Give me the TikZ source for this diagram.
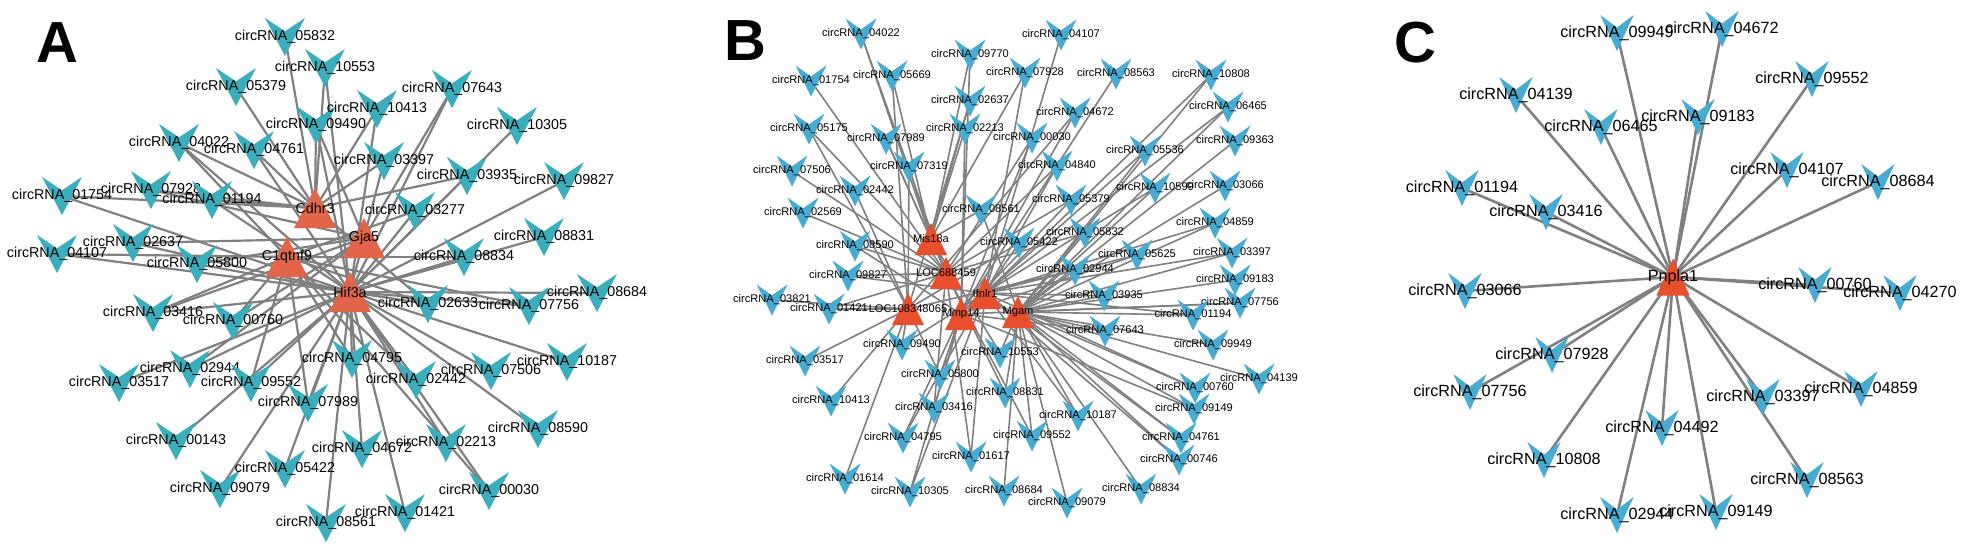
\documentclass[tikz,border=0pt]{standalone}
\usepackage{fontspec}
\setmainfont{Liberation Sans}
\pgfdeclarelayer{bg}\pgfsetlayers{bg,main}
\definecolor{vA}{RGB}{58,174,188}
\definecolor{tA}{RGB}{226,101,74}
\definecolor{vB}{RGB}{72,172,210}
\definecolor{tB}{RGB}{232,80,45}
\definecolor{eg}{RGB}{128,128,128}
\newcommand\CN[4]{\fill[\vcol] (#2-\vw,#3-\vh) -- (#2,#3-0.3*\vh) -- (#2+\vw,#3-\vh) -- (#2,#3+\vh) -- cycle;
  \node[lab] (#1) at (#2,#3) {#4};}
\newcommand\HN[4]{\fill[\tcol] (#2,#3-\trh) -- (#2+\trw,#3+\trh) -- (#2-\trw,#3+\trh) -- cycle;
  \node[lab] (#1) at (#2,#3) {#4};}
\newcommand\ED[2]{\foreach \q in {#2}{\draw[lnk] (#1.center) -- (\q.center);}}
\tikzset{panel/.style={inner sep=0pt, font=\fontsize{58}{60}\selectfont\bfseries}}
\begin{document}
\begin{tikzpicture}[x=1pt,y=-1pt]
\begin{pgfonlayer}{bg}
\fill[white] (0,0) rectangle (1965,551);
\end{pgfonlayer}
\useasboundingbox (0,0) rectangle (1965,551);
\node[panel] (LA) at (57,43) {A};
\node[panel] (LB) at (745,41) {B};
\node[panel] (LC) at (1415,43) {C};
% ---------------- Panel A
\begin{scope}[lab/.style={inner sep=0pt,font=\fontsize{14.3}{16}\selectfont}, lnk/.style={draw=eg,line width=2.2pt}]
\def\vw{20}\def\vh{19}\def\vcol{vA}\def\trw{21}\def\trh{20}\def\tcol{tA}
\CN{a05832}{285}{37}{circRNA\_05832}
\CN{a10553}{325}{68}{circRNA\_10553}
\CN{a05379}{236}{87}{circRNA\_05379}
\CN{a09490}{316}{125}{circRNA\_09490}
\CN{a04761}{254}{150}{circRNA\_04761}
\CN{a04022}{179}{143}{circRNA\_04022}
\CN{a01754}{62}{196}{circRNA\_01754}
\CN{a07928}{151}{190}{circRNA\_07928}
\CN{a01194}{212}{200}{circRNA\_01194}
\CN{a02637}{133}{243}{circRNA\_02637}
\CN{a04107}{57}{254}{circRNA\_04107}
\CN{a05800}{197}{264}{circRNA\_05800}
\CN{a10413}{377}{109}{circRNA\_10413}
\CN{a07643}{452}{89}{circRNA\_07643}
\CN{a10305}{517}{126}{circRNA\_10305}
\CN{a03397}{384}{161}{circRNA\_03397}
\CN{a03935}{467}{176}{circRNA\_03935}
\CN{a09827}{564}{181}{circRNA\_09827}
\CN{a03277}{415}{211}{circRNA\_03277}
\CN{a08831}{544}{237}{circRNA\_08831}
\CN{a08834}{464}{257}{circRNA\_08834}
\CN{a03416}{153}{313}{circRNA\_03416}
\CN{a00760}{233}{321}{circRNA\_00760}
\CN{a02944}{190}{369}{circRNA\_02944}
\CN{a03517}{119}{383}{circRNA\_03517}
\CN{a09552}{251}{383}{circRNA\_09552}
\CN{a00143}{176}{441}{circRNA\_00143}
\CN{a09079}{220}{489}{circRNA\_09079}
\CN{a07989}{308}{403}{circRNA\_07989}
\CN{a05422}{285}{469}{circRNA\_05422}
\CN{a08561}{326}{523}{circRNA\_08561}
\CN{a02633}{428}{304}{circRNA\_02633}
\CN{a07756}{529}{306}{circRNA\_07756}
\CN{a08684}{597}{293}{circRNA\_08684}
\CN{a10187}{567}{362}{circRNA\_10187}
\CN{a04795}{352}{359}{circRNA\_04795}
\CN{a07506}{491}{371}{circRNA\_07506}
\CN{a02442}{416}{380}{circRNA\_02442}
\CN{a08590}{538}{429}{circRNA\_08590}
\CN{a02213}{446}{443}{circRNA\_02213}
\CN{a04672}{362}{449}{circRNA\_04672}
\CN{a00030}{489}{491}{circRNA\_00030}
\CN{a01421}{405}{513}{circRNA\_01421}
\HN{aCd}{315}{208}{Cdhr3}
\HN{aGj}{364}{238}{Gja5}
\HN{aC1}{287}{257}{C1qtnf9}
\HN{aHi}{350}{292}{Hif3a}
\begin{pgfonlayer}{bg}
\ED{a05832}{aCd}\ED{a10553}{aCd,aHi}\ED{a05379}{aCd}\ED{a09490}{aCd,aGj,aHi}
\ED{a04761}{aCd,aHi}\ED{a04022}{aCd,aC1,aHi}\ED{a10413}{aCd,aHi}\ED{a07643}{aGj,aHi}
\ED{a10305}{aHi}\ED{a03397}{aCd,aHi}\ED{a03935}{aCd,aHi}\ED{a09827}{aHi}
\ED{a03277}{aC1,aHi}\ED{a08831}{aHi}\ED{a08834}{aC1,aHi}\ED{a01754}{aCd,aHi}
\ED{a07928}{aCd,aGj}\ED{a01194}{aCd,aHi}\ED{a02637}{aGj,aHi}\ED{a04107}{aC1,aHi}
\ED{a05800}{aGj,aHi}\ED{a03416}{aC1,aHi,aGj}\ED{a00760}{aC1,aGj}\ED{a02944}{aGj,aHi}
\ED{a03517}{aHi}\ED{a09552}{aC1,aHi}\ED{a00143}{aHi}\ED{a09079}{aHi}
\ED{a07989}{aC1,aHi}\ED{a05422}{aHi}\ED{a08561}{aHi}\ED{a02633}{aCd,aC1,aHi}
\ED{a07756}{aC1,aHi}\ED{a08684}{aHi}\ED{a10187}{aHi}\ED{a04795}{aC1,aHi}
\ED{a07506}{aHi}\ED{a02442}{aC1,aHi}\ED{a08590}{aHi}\ED{a02213}{aHi}
\ED{a04672}{aHi}\ED{a00030}{aHi,aC1}\ED{a01421}{aHi}
\end{pgfonlayer}
\end{scope}
% ---------------- Panel B
\begin{scope}[lab/.style={inner sep=0pt,font=\fontsize{11.1}{12}\selectfont}, lnk/.style={draw=eg,line width=1.6pt}]
\def\vw{15.5}\def\vh{15.5}\def\vcol{vB}\def\trw{16}\def\trh{16}\def\tcol{tB}
\CN{b04022}{861}{34}{circRNA\_04022}
\CN{b09770}{970}{55}{circRNA\_09770}
\CN{b04107}{1061}{35}{circRNA\_04107}
\CN{b01754}{811}{81}{circRNA\_01754}
\CN{b05669}{892}{76}{circRNA\_05669}
\CN{b07928}{1025}{73}{circRNA\_07928}
\CN{b08563}{1116}{74}{circRNA\_08563}
\CN{b10808}{1211}{75}{circRNA\_10808}
\CN{b02637}{970}{101}{circRNA\_02637}
\CN{b04672}{1075}{113}{circRNA\_04672}
\CN{b06465}{1228}{107}{circRNA\_06465}
\CN{b05175}{809}{129}{circRNA\_05175}
\CN{b07989}{886}{139}{circRNA\_07989}
\CN{b02213}{965}{129}{circRNA\_02213}
\CN{b00030}{1032}{138}{circRNA\_00030}
\CN{b09363}{1235}{141}{circRNA\_09363}
\CN{b07319}{909}{167}{circRNA\_07319}
\CN{b04840}{1057}{166}{circRNA\_04840}
\CN{b05536}{1145}{151}{circRNA\_05536}
\CN{b07506}{792}{171}{circRNA\_07506}
\CN{b02442}{855}{191}{circRNA\_02442}
\CN{b10599}{1155}{188}{circRNA\_10599}
\CN{b03066}{1225}{186}{circRNA\_03066}
\CN{b05379}{1071}{200}{circRNA\_05379}
\CN{b02569}{803}{213}{circRNA\_02569}
\CN{b08561}{981}{210}{circRNA\_08561}
\CN{b05422}{1019}{243}{circRNA\_05422}
\CN{b04859}{1215}{223}{circRNA\_04859}
\CN{b08590}{855}{246}{circRNA\_08590}
\CN{b05832}{1085}{233}{circRNA\_05832}
\CN{b05625}{1137}{255}{circRNA\_05625}
\CN{b09827}{848}{276}{circRNA\_09827}
\CN{b02944}{1075}{270}{circRNA\_02944}
\CN{b03397}{1232}{253}{circRNA\_03397}
\CN{b09183}{1235}{280}{circRNA\_09183}
\CN{b03821}{772}{300}{circRNA\_03821}
\CN{b01421}{829}{309}{circRNA\_01421}
\CN{b03935}{1104}{296}{circRNA\_03935}
\CN{b07756}{1240}{303}{circRNA\_07756}
\CN{b01194}{1193}{315}{circRNA\_01194}
\CN{b07643}{1105}{331}{circRNA\_07643}
\CN{b09949}{1213}{345}{circRNA\_09949}
\CN{b09490}{902}{345}{circRNA\_09490}
\CN{b10553}{1000}{353}{circRNA\_10553}
\CN{b03517}{805}{361}{circRNA\_03517}
\CN{b05800}{940}{375}{circRNA\_05800}
\CN{b04139}{1259}{379}{circRNA\_04139}
\CN{b00760}{1195}{388}{circRNA\_00760}
\CN{b08831}{1005}{393}{circRNA\_08831}
\CN{b09149}{1194}{409}{circRNA\_09149}
\CN{b10413}{831}{401}{circRNA\_10413}
\CN{b03416}{934}{408}{circRNA\_03416}
\CN{b10187}{1078}{416}{circRNA\_10187}
\CN{b04761}{1181}{438}{circRNA\_04761}
\CN{b09552}{1032}{436}{circRNA\_09552}
\CN{b00746}{1179}{460}{circRNA\_00746}
\CN{b04795}{903}{438}{circRNA\_04795}
\CN{b01617}{971}{457}{circRNA\_01617}
\CN{b08834}{1141}{489}{circRNA\_08834}
\CN{b01614}{845}{479}{circRNA\_01614}
\CN{b10305}{910}{492}{circRNA\_10305}
\CN{b08684}{1004}{491}{circRNA\_08684}
\CN{b09079}{1067}{503}{circRNA\_09079}
\HN{bMis}{931}{239}{Mis18a}
\HN{bL68}{946}{273}{LOC688459}
\HN{bIfn}{985}{293}{Ifnlr1}
\HN{bL10}{908}{309}{LOC108348065}
\HN{bMmp}{961}{314}{Mmp14}
\HN{bMga}{1018}{312}{Mgam}
\begin{pgfonlayer}{bg}
\ED{b04022}{bMis,bL68}\ED{b09770}{bMis,bMmp}\ED{b04107}{bIfn}\ED{b01754}{bL68}
\ED{b05669}{bMis,bL10}\ED{b07928}{bMis,bIfn}\ED{b08563}{bMmp}\ED{b10808}{bIfn,bMga}
\ED{b02637}{bMis,bL10}\ED{b04672}{bL10,bMmp}\ED{b06465}{bIfn,bMga}\ED{b05175}{bL68,bL10}
\ED{b07989}{bMis,bL68}\ED{b02213}{bMis,bMmp}\ED{b00030}{bL68,bMmp}\ED{b09363}{bMga}
\ED{b07319}{bMis,bL10}\ED{b04840}{bL68,bIfn}\ED{b05536}{bMmp,bMga}\ED{b07506}{bL68}
\ED{b02442}{bL10}\ED{b10599}{bIfn,bMga}\ED{b03066}{bMga}\ED{b05379}{bL68,bMmp}
\ED{b02569}{bL68}\ED{b08561}{bMis,bMga}\ED{b05422}{bL10,bIfn}\ED{b04859}{bIfn,bMga}
\ED{b08590}{bL68,bMmp}\ED{b05832}{bL68,bMga}\ED{b05625}{bIfn,bMmp}\ED{b09827}{bL68,bIfn}
\ED{b02944}{bL10,bMga}\ED{b03397}{bIfn,bMga}\ED{b09183}{bMga}\ED{b03821}{bL10}
\ED{b01421}{bL68,bL10}\ED{b03935}{bIfn,bMga}\ED{b07756}{bMmp,bMga}\ED{b01194}{bIfn,bMga}
\ED{b07643}{bMmp,bMga}\ED{b09949}{bMga}\ED{b09490}{bL10,bIfn}\ED{b10553}{bMis,bMga}
\ED{b03517}{bL10}\ED{b05800}{bL10,bMmp}\ED{b04139}{bMga}\ED{b00760}{bIfn,bMga}
\ED{b08831}{bL68,bMga}\ED{b09149}{bMmp,bMga}\ED{b10413}{bL10}\ED{b03416}{bMmp,bL68}
\ED{b10187}{bIfn,bMga}\ED{b04761}{bIfn,bMga}\ED{b09552}{bMga,bL68}\ED{b00746}{bIfn,bMga}
\ED{b04795}{bMmp,bIfn}\ED{b01617}{bIfn,bL68}\ED{b08834}{bMga}\ED{b01614}{bL10}
\ED{b10305}{bMmp,bIfn}\ED{b08684}{bMga}\ED{b09079}{bMga}
\end{pgfonlayer}
\end{scope}
% ---------------- Panel C
\begin{scope}[lab/.style={inner sep=0pt,font=\fontsize{16.2}{18}\selectfont}, lnk/.style={draw=eg,line width=2.6pt}]
\def\vw{16.7}\def\vh{18}\def\vcol{vB}\def\trw{16.5}\def\trh{18.5}\def\tcol{tB}
\CN{c09949}{1617}{33}{circRNA\_09949}
\CN{c04672}{1722}{29}{circRNA\_04672}
\CN{c04139}{1516}{95}{circRNA\_04139}
\CN{c06465}{1601}{127}{circRNA\_06465}
\CN{c09183}{1698}{117}{circRNA\_09183}
\CN{c09552}{1812}{79}{circRNA\_09552}
\CN{c01194}{1462}{188}{circRNA\_01194}
\CN{c03416}{1546}{212}{circRNA\_03416}
\CN{c04107}{1787}{170}{circRNA\_04107}
\CN{c08684}{1878}{182}{circRNA\_08684}
\CN{c03066}{1465}{291}{circRNA\_03066}
\CN{c00760}{1815}{285}{circRNA\_00760}
\CN{c04270}{1900}{293}{circRNA\_04270}
\CN{c07928}{1552}{355}{circRNA\_07928}
\CN{c07756}{1470}{392}{circRNA\_07756}
\CN{c04492}{1662}{428}{circRNA\_04492}
\CN{c10808}{1544}{460}{circRNA\_10808}
\CN{c02944}{1617}{515}{circRNA\_02944}
\CN{c03397}{1763}{397}{circRNA\_03397}
\CN{c04859}{1861}{389}{circRNA\_04859}
\CN{c08563}{1807}{480}{circRNA\_08563}
\CN{c09149}{1716}{512}{circRNA\_09149}
\HN{cPn}{1673}{277}{Pnpla1}
\begin{pgfonlayer}{bg}
\foreach \p in {c09949,c04672,c04139,c06465,c09183,c09552,c01194,c03416,c04107,c08684,c03066,c00760,c04270,c07928,c07756,c04492,c10808,c02944,c03397,c04859,c08563,c09149}
  {\draw[lnk] (\p.center) -- (cPn.center);}
\end{pgfonlayer}
\end{scope}
\end{tikzpicture}
\end{document}
